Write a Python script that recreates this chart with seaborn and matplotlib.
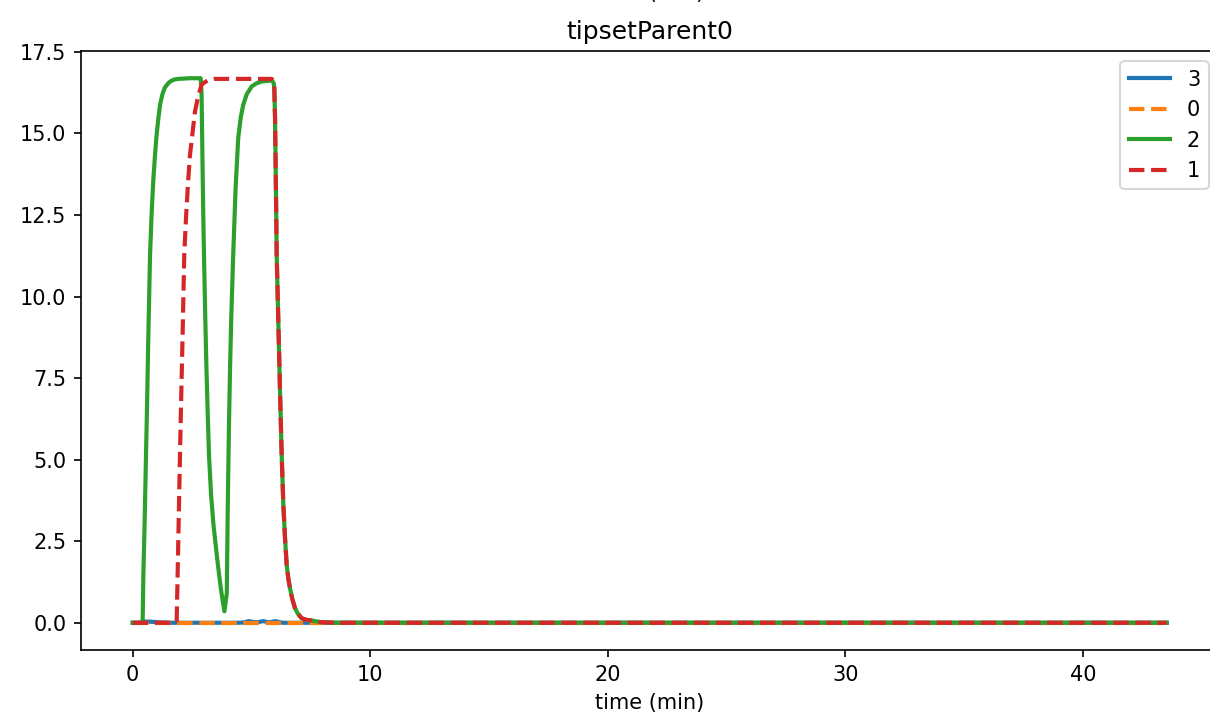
import matplotlib
matplotlib.use("Agg")
import matplotlib.pyplot as plt
import pandas as pd
import seaborn as sns

# series "3" (blue, solid) - almost flat with small bumps
t_3 = [0.0, 0.38, 0.45, 0.8, 1.2, 1.6, 4.5, 4.7, 4.87, 5.2, 5.5, 5.75, 5.99, 6.3, 43.52]
v_3 = [0.0, 0.0, 0.04, 0.03, 0.01, 0.0, 0.0, 0.01, 0.05, 0.01, 0.05, 0.01, 0.05, 0.0, 0.0]

# series "0" (orange, dashed) - flat
t_0 = [0.0, 10.0, 20.0, 30.0, 43.52]
v_0 = [0.0, 0.0, 0.0, 0.0, 0.0]

# series "2" (green, solid)
t_2 = [0.0, 0.38, 0.42, 0.45, 0.5, 0.56, 0.6, 0.65, 0.73, 0.8, 0.87, 0.94, 1.0, 1.07,
       1.15, 1.25, 1.35, 1.5, 1.6, 1.75, 1.92, 2.4, 2.86, 2.9, 2.94, 2.97,
       3.0, 3.05, 3.1, 3.15, 3.21, 3.3, 3.4, 3.46, 3.55, 3.67, 3.75, 3.86,
       3.96, 4.0, 4.05, 4.1, 4.15, 4.23, 4.33, 4.44, 4.55, 4.65, 4.8, 5.01, 5.2, 5.43, 5.85,
       5.93, 5.96, 5.99, 6.03, 6.06, 6.13, 6.2, 6.27, 6.34, 6.41, 6.48, 6.55, 6.62, 6.72,
       6.83, 6.95, 7.11, 7.3, 7.53, 7.9, 8.5, 43.52]
v_2 = [0.0, 0.0, 0.1, 1.5, 3.0, 5.15, 6.5, 8.5, 11.28, 12.6, 13.6, 14.34, 14.9, 15.4,
       15.87, 16.2, 16.4, 16.54, 16.6, 16.65, 16.67, 16.69, 16.69, 16.2, 14.0, 12.5,
       11.28, 9.5, 7.9, 6.6, 5.15, 3.9, 3.0, 2.6, 2.0, 1.27, 0.85, 0.35,
       0.9, 3.5, 6.0, 7.9, 9.4, 11.28, 13.3, 14.85, 15.5, 15.87, 16.2, 16.44, 16.53, 16.59, 16.62,
       16.55, 16.39, 15.5, 13.2, 11.28, 9.2, 7.1, 5.15, 3.62, 2.6, 1.78, 1.35, 1.06, 0.72,
       0.45, 0.28, 0.14, 0.09, 0.07, 0.02, 0.0, 0.0]

# series "1" (red, dashed)
t_1 = [0.0, 1.80, 1.85, 1.9, 1.99, 2.05, 2.1, 2.17, 2.25, 2.33, 2.41, 2.5, 2.62, 2.7,
       2.8, 2.9, 3.0, 3.15, 3.46, 4.5, 5.85,
       5.93, 5.96, 5.99, 6.03, 6.06, 6.13, 6.2, 6.27, 6.34, 6.41, 6.48, 6.55, 6.62, 6.72,
       6.83, 6.95, 7.11, 7.3, 7.53, 7.9, 8.5, 43.52]
v_1 = [0.0, 0.0, 0.05, 1.8, 5.15, 7.2, 8.8, 11.28, 12.5, 13.5, 14.34, 14.9, 15.66, 15.95,
       16.25, 16.49, 16.55, 16.62, 16.67, 16.67, 16.67,
       16.6, 16.39, 15.5, 13.2, 11.28, 9.2, 7.1, 5.15, 3.62, 2.6, 1.78, 1.35, 1.06, 0.72,
       0.45, 0.28, 0.14, 0.09, 0.07, 0.02, 0.0, 0.0]

series_order = ["3", "0", "2", "1"]

frames = []
for name, t, v in [("3", t_3, v_3), ("0", t_0, v_0), ("2", t_2, v_2), ("1", t_1, v_1)]:
    frames.append(pd.DataFrame({"time": t, "value": v, "series": name}))
df = pd.concat(frames, ignore_index=True)

palette = {"3": "#1f77b4", "0": "#ff7f0e", "2": "#2ca02c", "1": "#d62728"}
dashes = {"3": "", "0": (3.7, 1.6), "2": "", "1": (3.7, 1.6)}

fig = plt.figure(figsize=(1210 / 150, 724 / 150), dpi=150)
# the right part of the axes runs past the figure edge, as in the cropped original
ax = fig.add_axes([81 / 1210, 74 / 724, 1138 / 1210, 599 / 724])

sns.lineplot(data=df, x="time", y="value", hue="series", style="series",
             hue_order=series_order, style_order=series_order,
             palette=palette, dashes=dashes, linewidth=2, ax=ax)

ax.set_xlim(-2.176, 45.72)
ax.spines["right"].set_visible(False)
ax.set_title("tipsetParent0")
ax.set_xlabel("time (min)")
ax.set_ylabel("")
ax.set_yticks([0, 2.5, 5, 7.5, 10, 12.5, 15, 17.5])
sns.move_legend(ax, "upper right", title=None, bbox_to_anchor=(1, 1))

# bottom of the xlabel of a plot above, cut by the figure edge
fig.text(649.75 / 1210, 1 + 0.5 / 724, "time (min)", ha="center", va="baseline")

fig.savefig("out.png", dpi=150)
